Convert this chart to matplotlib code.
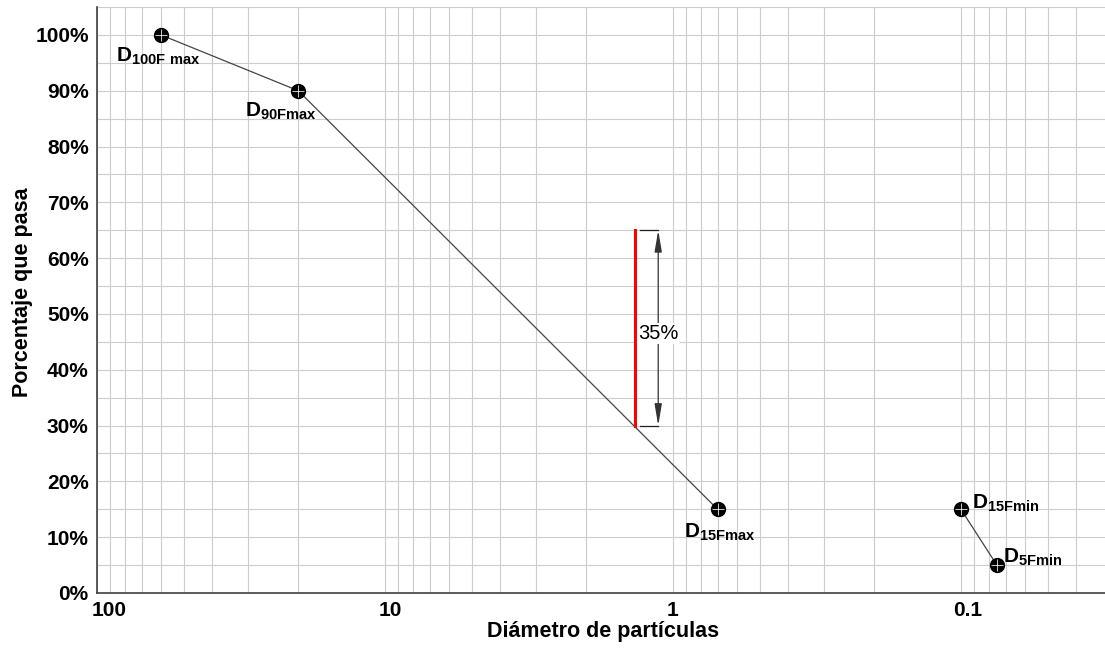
import numpy as np
import matplotlib
matplotlib.use("Agg")
import matplotlib.pyplot as plt
import matplotlib.transforms as mtransforms
from matplotlib.ticker import FixedLocator, NullFormatter, MultipleLocator

plt.rcParams["font.family"] = ["Liberation Sans", "DejaVu Sans"]
plt.rcParams["mathtext.fontset"] = "custom"
plt.rcParams["mathtext.rm"] = "Liberation Sans"
plt.rcParams["mathtext.bf"] = "Liberation Sans:bold"

# Curva granulométrica: límites superior e inferior del filtro
diam_max = [60, 20, 0.7]
pasa_max = [100, 90, 15]
etiq_max = [r"$\mathbf{D_{100F\ max}}$", r"$\mathbf{D_{90Fmax}}$", r"$\mathbf{D_{15Fmax}}$"]

diam_min = [0.1, 0.075]
pasa_min = [15, 5]
etiq_min = [r"$\mathbf{D_{15Fmin}}$", r"$\mathbf{D_{5Fmin}}$"]

# Cota del 35 %
x_cota = 1.35
y_cota = [30, 65]

xticks = [100, 10, 1, 0.1]
xticklabels = ["100", "10", "1", "0.1"]
yticks = list(range(0, 101, 10))

fig = plt.figure(figsize=(11.05, 6.55), dpi=100)
ax = fig.add_axes([97 / 1105, 62 / 655, 1008 / 1105, 586 / 655])

ax.set_xscale("log")
ax.set_xlim(100, 0.0316)
ax.set_ylim(0, 105)

# rejilla
ax.set_xticks(xticks)
ax.set_xticklabels(xticklabels)
minors = [m * 10.0 ** e for e in range(-2, 2) for m in range(2, 10)]
ax.xaxis.set_minor_locator(FixedLocator(minors))
ax.xaxis.set_minor_formatter(NullFormatter())
ax.set_yticks(yticks)
ax.set_yticklabels([f"{v}%" for v in yticks])
ax.yaxis.set_minor_locator(MultipleLocator(5))
ax.grid(True, which="both", color="#cccccc", linewidth=0.8)
ax.set_axisbelow(True)

ax.tick_params(which="both", length=0)
ax.tick_params(axis="y", pad=6, labelsize=15)
ax.tick_params(axis="x", pad=6, labelsize=15)
for lbl in ax.get_xticklabels() + ax.get_yticklabels():
    lbl.set_fontweight("bold")

# el "100" queda pegado al eje, se corre un poco a la derecha
shift = [12, 5, 0, 7]
for lbl, dx in zip(ax.get_xticklabels(), shift):
    lbl.set_transform(lbl.get_transform() +
                      mtransforms.ScaledTranslation(dx / 100, 0, fig.dpi_scale_trans))

for s in ["top", "right"]:
    ax.spines[s].set_visible(False)
for s in ["left", "bottom"]:
    ax.spines[s].set_color("#404040")
    ax.spines[s].set_linewidth(1.2)

# curvas
for xs, ys in [(diam_max, pasa_max), (diam_min, pasa_min)]:
    ax.plot(xs, ys, color="#444444", linewidth=0.9, zorder=3)
    ax.plot(xs, ys, linestyle="none", marker="o", markersize=10,
            color="black", zorder=4)
    ax.plot(xs, ys, linestyle="none", marker="+", markersize=8,
            markeredgewidth=0.55, color="white", zorder=5)

# etiquetas de los puntos
offs_max = [(-3, -11), (-17, -10), (2, -12)]
for x, y, t, o in zip(diam_max, pasa_max, etiq_max, offs_max):
    ax.annotate(t, (x, y), xytext=o, textcoords="offset pixels",
                ha="center", va="top", fontsize=15, zorder=6)
offs_min = [(11, 1), (6, 2)]
for x, y, t, o in zip(diam_min, pasa_min, etiq_min, offs_min):
    ax.annotate(t, (x, y), xytext=o, textcoords="offset pixels",
                ha="left", va="baseline", fontsize=15, zorder=6)

# cota vertical del 35 %
ax.plot([x_cota, x_cota], y_cota, color="red", linewidth=2.2, zorder=7)
x_flecha = x_cota / 1.2
for yc in y_cota:
    ax.plot([x_cota / 1.04, x_flecha], [yc, yc], color="#222222",
            linewidth=0.9, zorder=3)
ax.annotate("", xy=(x_flecha, y_cota[0]), xytext=(x_flecha, y_cota[1]),
            arrowprops=dict(arrowstyle="<|-|>,head_length=1.3,head_width=0.22",
                            color="#333333", linewidth=0.9,
                            shrinkA=0, shrinkB=0, mutation_scale=10),
            zorder=3)
ax.annotate(f"{y_cota[1] - y_cota[0]}%", (x_cota, np.mean(y_cota) - 1),
            xytext=(3, 0), textcoords="offset pixels",
            ha="left", va="center", fontsize=14.5, zorder=6,
            bbox=dict(facecolor="white", edgecolor="none", pad=1))

fig.text(603 / 1105, 1 - 637 / 655, "Diámetro de partículas",
         ha="center", va="baseline", fontsize=15.5, fontweight="bold")
fig.text(12 / 1105, 1 - 292 / 655, "Porcentaje que pasa", rotation=90,
         ha="left", va="center", fontsize=15.5, fontweight="bold")

fig.savefig("out.png", dpi=100)
